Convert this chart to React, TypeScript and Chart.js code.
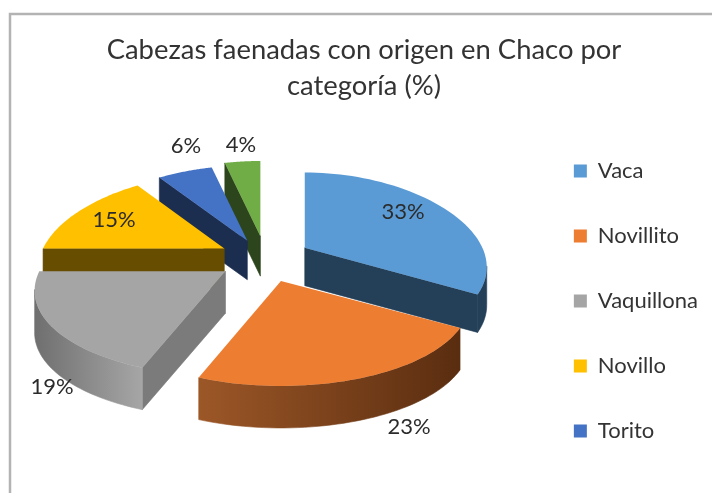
import React, { useEffect, useRef } from "react";
import { Chart, registerables } from "chart.js";

Chart.register(...registerables);

const categories = ["Vaca", "Novillito", "Vaquillona", "Novillo", "Torito", "Otros"];
const shares = [33, 23, 19, 15, 6, 4];
const titleLines = ["Cabezas faenadas con origen en Chaco por", "categoría (%)"];
const legendCount = 5;

const topColors = ["#5b9bd5", "#ed7d31", "#a5a5a5", "#ffc000", "#4472c4", "#70ad47"];
const wallColors = ["#243f58", "#5e2f12", "#7b7b7b", "#664d00", "#1b2e50", "#2d451c"];
const rimStops = [
  ["#243f58", "#243f58"],
  ["#9c5727", "#5a2d10"],
  ["#6f6f6f", "#a6a6a6"],
  ["#664d00", "#664d00"],
  ["#1b2e50", "#1b2e50"],
  ["#2d451c", "#2d451c"],
];
const explode = [27, 32, 24, 23, 20, 20];
const apexNudge = [
  [0, 5],
  [-1, -1],
  [0, 4],
  [0, 3],
  [1, 2],
  [3, -1],
];
const radiusScale = [0.965, 1, 1.012, 0.985, 1, 1];
const depths = [38, 42, 42, 40, 39, 40];
const labelAnchors = [
  [403, 212],
  [409, 427],
  [52, 387],
  [114, 220],
  [186, 146],
  [241, 145],
];
const drawOrder = [5, 4, 3, 2, 0, 1];

const CX = 262;
const CY = 255;
const RX = 184;
const RY = 90;
const FONT = "Lato, 'Open Sans', sans-serif";

const pie3d = {
  id: "pie3d",
  beforeDraw(chart: any) {
    const { ctx, width, height } = chart;
    ctx.save();
    ctx.strokeStyle = "#b3b3b3";
    ctx.lineWidth = 2.5;
    ctx.beginPath();
    ctx.moveTo(10, height);
    ctx.lineTo(10, 14);
    ctx.lineTo(width, 14);
    ctx.stroke();
    ctx.restore();
  },
  beforeDatasetDraw(chart: any) {
    const { ctx } = chart;
    const arcs = chart.getDatasetMeta(0).data;
    for (const i of drawOrder) {
      const arc = arcs[i];
      const t0 = arc.startAngle + Math.PI / 2;
      const t1 = arc.endAngle + Math.PI / 2;
      const e = arc.options.offset / 100;
      const mid = (t0 + t1) / 2;
      const ax = CX + RX * e * Math.sin(mid) + apexNudge[i][0];
      const ay = CY - RY * e * Math.cos(mid) + apexNudge[i][1];
      const depth = depths[i];
      const pt = (t: number) => {
        const u = Math.sin(t);
        const v = Math.cos(t);
        return [ax + RX * radiusScale[i] * u * (1 - 0.23 * v), ay - RY * v * (1 - 0.165 * v)];
      };
      const rim: number[][] = [];
      const n = 48;
      for (let k = 0; k <= n; k++) rim.push(pt(t0 + ((t1 - t0) * k) / n));
      const first = rim[0];
      const last = rim[n];

      const prism = (pts: number[][], fill: any) => {
        ctx.fillStyle = fill;
        ctx.strokeStyle = fill;
        ctx.lineWidth = 0.6;
        ctx.beginPath();
        pts.forEach((p, k) => (k ? ctx.lineTo(p[0], p[1]) : ctx.moveTo(p[0], p[1])));
        [...pts].reverse().forEach((p) => ctx.lineTo(p[0], p[1] + depth));
        ctx.closePath();
        ctx.fill();
        ctx.stroke();
      };

      ctx.save();
      const apex = [ax, ay];
      if (first[0] < ax) prism([apex, first], wallColors[i]);
      if (ax < last[0]) prism([last, apex], wallColors[i]);
      const xs = rim.map((p) => p[0]);
      const grad = ctx.createLinearGradient(Math.min(...xs), 0, Math.max(...xs), 0);
      grad.addColorStop(0, rimStops[i][0]);
      grad.addColorStop(1, rimStops[i][1]);
      const visible = rim.filter(
        (p, k) =>
          (k < n && rim[k + 1][0] < p[0]) || (k > 0 && p[0] < rim[k - 1][0])
      );
      if (visible.length > 1) prism(visible, grad);
      ctx.fillStyle = topColors[i];
      ctx.beginPath();
      ctx.moveTo(ax, ay);
      rim.forEach((p) => ctx.lineTo(p[0], p[1]));
      ctx.closePath();
      ctx.fill();
      ctx.restore();
    }
    return false;
  },
  afterDatasetsDraw(chart: any) {
    const { ctx } = chart;
    ctx.save();
    ctx.fillStyle = "#2b2b2b";
    ctx.font = `22px ${FONT}`;
    ctx.textAlign = "center";
    ctx.textBaseline = "middle";
    shares.forEach((s, i) => {
      ctx.fillText(`${s}%`, labelAnchors[i][0], labelAnchors[i][1]);
    });
    ctx.restore();
  },
};

export default function App() {
  const ref = useRef<HTMLCanvasElement>(null);
  useEffect(() => {
    const chart = new Chart(ref.current as HTMLCanvasElement, {
      type: "pie",
      data: {
        labels: categories,
        datasets: [
          {
            data: shares,
            backgroundColor: topColors,
            borderWidth: 0,
            offset: explode,
          },
        ],
      },
      options: {
        responsive: false,
        animation: false,
        layout: { padding: { left: 20, right: 4, top: 26, bottom: -83 } },
        plugins: {
          tooltip: { enabled: false },
          title: {
            display: true,
            text: titleLines,
            color: "#333333",
            font: { family: FONT, size: 27.4, weight: "normal", lineHeight: 1.32 },
            padding: { top: 6, bottom: 12 },
          },
          legend: {
            position: "right",
            labels: {
              filter: (item: any) => item.index < legendCount,
              boxWidth: 13,
              boxHeight: 13,
              padding: 43,
              color: "#333333",
              font: { family: FONT, size: 22 },
            },
          },
        },
      },
      plugins: [pie3d],
    } as any);
    return () => chart.destroy();
  }, []);
  return (
    <div style={{ position: "absolute", left: 0, top: 0, width: 712, height: 493, background: "#fff" }}>
      <canvas ref={ref} width={712} height={493} style={{ display: "block", filter: "blur(0.4px)" }} />
    </div>
  );
}
